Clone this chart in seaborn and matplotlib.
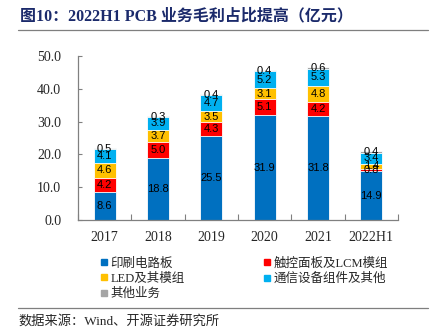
import matplotlib
matplotlib.use("Agg")
import matplotlib.pyplot as plt
from matplotlib.lines import Line2D
import seaborn as sns
import numpy as np
import pandas as pd

# Gross profit by business line (100 million CNY)
years = ["2017", "2018", "2019", "2020", "2021", "2022H1"]
pcb = [8.6, 18.8, 25.5, 31.9, 31.8, 14.9]
touch_lcm = [4.2, 5.0, 4.3, 5.1, 4.2, 0.8]
led = [4.6, 3.7, 3.5, 3.1, 4.8, 1.4]
telecom = [4.1, 3.9, 4.7, 5.2, 5.3, 3.4]
other = [0.5, 0.3, 0.4, 0.4, 0.6, 0.4]

series_names = ["印刷电路板", "触控面板及LCM模组", "LED及其模组", "通信设备组件及其他", "其他业务"]
series_colors = ["#0070C0", "#FF0000", "#FFC000", "#00B0F0", "#A5A5A5"]
y_ticks = [0, 10, 20, 30, 40, 50]

title = "图10：2022H1 PCB 业务毛利占比提高（亿元）"
source = "数据来源：Wind、开源证券研究所"

sns.set_theme(style="white")
CJK = "Noto Sans CJK SC"
SERIF = "Liberation Serif"
plt.rcParams["font.family"] = [SERIF, CJK]
mixed = [SERIF, CJK]

W, H = 430, 334
fig = plt.figure(figsize=(W / 100, H / 100), dpi=100)
ax = fig.add_axes([78 / W, 1 - 220 / H, 320 / W, 164 / H])

stack = np.vstack([pcb, touch_lcm, led, telecom, other])
cum = np.cumsum(stack, axis=0)

# Draw cumulative totals from the top segment down so each layer shows its own slice
for i in range(len(series_names) - 1, -1, -1):
    df = pd.DataFrame({"year": years, "value": cum[i]})
    sns.barplot(data=df, x="year", y="value", color=series_colors[i], saturation=1,
                width=0.41, edgecolor="white", linewidth=0.6, errorbar=None, ax=ax)

# Value labels centred in each segment
for i in range(len(series_names)):
    for j in range(len(years)):
        v = stack[i][j]
        ax.text(j, cum[i][j] - v / 2, f"{v:.1f}", ha="center", va="center",
                fontsize=8, family="Liberation Sans", color="black")

ax.set_xlim(-0.5, len(years) - 0.5)
ax.set_ylim(0, 50)
ax.set_yticks(y_ticks)
ax.set_yticklabels([f"{t:.1f}" for t in y_ticks])
ax.set_xlabel("")
ax.set_ylabel("")
ax.set_xticks(np.arange(-0.5, len(years), 1.0), minor=True)
ax.tick_params(axis="x", which="major", length=0, pad=8, labelsize=10)
ax.tick_params(axis="x", which="minor", direction="in", length=4, width=0.8, color="#808080", bottom=True)
ax.tick_params(axis="y", direction="in", length=3, width=0.8, color="#808080", pad=12, labelsize=10, left=True)
for lab in ax.get_xticklabels() + ax.get_yticklabels():
    lab.set_family(SERIF)
for side in ["top", "right"]:
    ax.spines[side].set_visible(False)
for side in ["left", "bottom"]:
    ax.spines[side].set_color("#808080")
    ax.spines[side].set_linewidth(0.9)

# Legend in two columns below the axis
order = [0, 2, 4, 1, 3]
handles = [Line2D([], [], marker="s", linestyle="", color=series_colors[k], markersize=5) for k in order]
labels = [series_names[k] for k in order]
fig.legend(handles, labels, ncol=2, loc="upper left", bbox_to_anchor=(88 / W, 1 - 246 / H),
           frameon=False, handlelength=0.8, handletextpad=0.1, columnspacing=6.2,
           labelspacing=0.26, prop={"family": mixed, "size": 9})

# Title, rules and source note
fig.text(20 / W, 1 - 16 / H, title, fontsize=11.5, weight="bold", color="#1B2A6B",
         va="center", ha="left", family=mixed)
fig.add_artist(Line2D([18 / W, 428 / W], [1 - 30 / H] * 2, color="#7F7F7F", lw=0.9,
                      transform=fig.transFigure))
fig.add_artist(Line2D([18 / W, 428 / W], [1 - 308 / H] * 2, color="#7F7F7F", lw=0.9,
                      transform=fig.transFigure))
fig.text(18 / W, 1 - 321 / H, source, fontsize=9.5, va="center", ha="left", family=mixed)

fig.savefig("out.png", dpi=100)
